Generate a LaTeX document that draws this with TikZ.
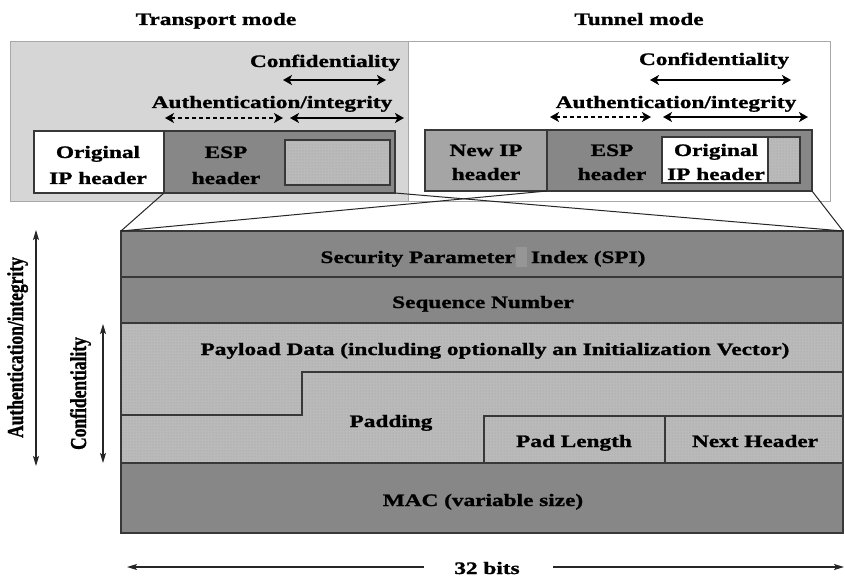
\documentclass[tikz,border=0pt]{standalone}
\usepackage{fontspec}
\setmainfont[FakeStretch=1.33, BoldFeatures={FakeBold=1.2}]{Liberation Serif}
\newfontfamily\vfont[BoldFeatures={FakeBold=1.2}]{Liberation Serif}
\usetikzlibrary{arrows.meta,patterns}
\definecolor{dk}{HTML}{878787}
\definecolor{md}{HTML}{A5A5A5}
\definecolor{lt}{HTML}{BABABA}
\definecolor{bg}{HTML}{D6D6D6}
\definecolor{edge}{HTML}{383838}
\definecolor{frame}{HTML}{A8A8A8}
\definecolor{spot}{HTML}{969696}
\begin{document}
\begin{tikzpicture}[x=1pt,y=-1pt,
  every node/.style={inner sep=0pt,outer sep=0pt},
  lbl/.style={font=\fontsize{17.5}{25}\selectfont\bfseries, anchor=base, text=black},
  vlbl/.style={font=\fontsize{17.5}{20}\vfont\bfseries, anchor=base, rotate=90, text=black},
  modebox/.style={draw=frame, line width=1pt, anchor=north west},
  box/.style={draw=edge, line width=1.4pt, anchor=north west},
  dkbox/.style={box, fill=dk},
  mdbox/.style={box, fill=md},
  whbox/.style={box, fill=white},
  dotbox/.style={box, preaction={fill=lt}, pattern=dots, pattern color=black!38},
  bigarrow/.style={line width=2.4pt, {Stealth[length=9pt,width=10pt,inset=2.5pt]}-{Stealth[length=9pt,width=10pt,inset=2.5pt]}},
  dasharrow/.style={bigarrow, dash pattern=on 4pt off 3pt},
  thinarrow/.style={line width=1.3pt, draw=black!85, {Stealth[length=10pt,width=6pt,inset=2pt]}-{Stealth[length=10pt,width=6pt,inset=2pt]}},
  conn/.style={line width=1pt, draw=black!85}
]
\useasboundingbox[fill=white] (0,0) rectangle (845,577);

% mode frames
\node (tmode) [modebox, fill=bg, minimum width=398pt, minimum height=160pt] at (10,42) {};
\node (nmode) [modebox, fill=white, minimum width=422pt, minimum height=160pt] at (408,42) {};

% titles
\node (ttitle) [lbl] at (216,25) {Transport mode};
\node (ntitle) [lbl] at (639,25) {Tunnel mode};

% transport labels and arrows
\node (tconf) [lbl] at (325,67) {Confidentiality};
\node (tauth) [lbl] at (272,108) {Authentication/integrity};
\coordinate (tc1) at (283,80); \coordinate (tc2) at (386,80);
\coordinate (ta1) at (165,118); \coordinate (ta2) at (283,118);
\coordinate (ta3) at (290,118); \coordinate (ta4) at (404,118);
\draw[bigarrow] (tc1) -- (tc2);
\draw[dasharrow] (ta1) -- (ta2);
\draw[bigarrow] (ta3) -- (ta4);

% tunnel labels and arrows
\node (nconf) [lbl] at (714,65) {Confidentiality};
\node (nauth) [lbl] at (676,108) {Authentication/integrity};
\coordinate (nc1) at (650,80); \coordinate (nc2) at (791,80);
\coordinate (na1) at (550,117); \coordinate (na2) at (651,117);
\coordinate (na3) at (663,117); \coordinate (na4) at (808,117);
\draw[bigarrow] (nc1) -- (nc2);
\draw[dasharrow] (na1) -- (na2);
\draw[bigarrow] (na3) -- (na4);

% transport packet
\node (torig) [whbox, minimum width=130pt, minimum height=62pt] at (34,131) {};
\node (tesp) [dkbox, minimum width=231pt, minimum height=62pt] at (164,131) {};
\node (tpay) [dotbox, minimum width=105pt, minimum height=45pt] at (285,140) {};
\node (torig1) [lbl] at (98,158) {Original};
\node (torig2) [lbl] at (98,184) {IP header};
\node (tesp1) [lbl] at (226,158) {ESP};
\node (tesp2) [lbl] at (226,184) {header};

% tunnel packet
\node (nnew) [mdbox, minimum width=122pt, minimum height=61pt] at (425,130) {};
\node (nesp) [dkbox, minimum width=265pt, minimum height=61pt] at (547,130) {};
\node (norig) [whbox, minimum width=106pt, minimum height=46pt] at (662,137) {};
\node (npay) [dotbox, minimum width=32pt, minimum height=46pt] at (768,137) {};
\node (nnew1) [lbl] at (486,156) {New IP};
\node (nnew2) [lbl] at (486,180) {header};
\node (nesp1) [lbl] at (612,156) {ESP};
\node (nesp2) [lbl] at (612,180) {header};
\node (norig1) [lbl] at (716,156) {Original};
\node (norig2) [lbl] at (716,180) {IP header};

% ESP format
\node (spi) [dkbox, minimum width=722pt, minimum height=46pt] at (121,231) {};
\node (seq) [dkbox, minimum width=722pt, minimum height=46pt] at (121,277) {};
\node (pay) [dotbox, minimum width=722pt, minimum height=140pt] at (121,323) {};
\node (mac) [dkbox, minimum width=722pt, minimum height=70pt] at (121,463) {};
\draw[edge, line width=1.4pt] (121,415) -- (302,415) -- (302,372) -- (843,372);
\node (padlen) [box, minimum width=181pt, minimum height=47pt] at (484,416) {};
\node (nexth) [box, minimum width=178pt, minimum height=47pt] at (665,416) {};
\fill[spot] (516,247) rectangle (527,267);

\node (spitxt) [lbl] at (483,263) {Security Parameter\hspace{16pt}Index (SPI)};
\node (seqtxt) [lbl] at (483,308) {Sequence Number};
\node (paytxt) [lbl] at (495,355) {Payload Data (including optionally an Initialization Vector)};
\node (padtxt) [lbl] at (391,427) {Padding};
\node (padlentxt) [lbl] at (574,447) {Pad Length};
\node (nexthtxt) [lbl] at (755,447) {Next Header};
\node (mactxt) [lbl] at (483,506) {MAC (variable size)};

% expansion lines
\draw[conn] (tesp.south west) -- (spi.north west);
\draw[conn] (tesp.south east) -- (spi.north east);
\draw[conn] (nesp.south west) -- (spi.north west);
\draw[conn] (nesp.south east) -- (spi.north east);

% side arrows
\coordinate (av1) at (36,230); \coordinate (av2) at (36,466);
\coordinate (cv1) at (103,324); \coordinate (cv2) at (103,463);
\draw[thinarrow] (av1) -- (av2);
\draw[thinarrow] (cv1) -- (cv2);
\node (authv) [vlbl] at (23,347.5) {\scalebox{1}[1.3]{Authentication/integrity}};
\node (confv) [vlbl] at (86,393.5) {\scalebox{1}[1.3]{Confidentiality}};

% 32 bits
\node (bits) [lbl] at (487,574) {32 bits};
\coordinate (b1) at (127,567); \coordinate (b2) at (424,567);
\coordinate (b3) at (553,567); \coordinate (b4) at (844,567);
\draw[line width=1.3pt, draw=black!85, -{Stealth[length=10pt,width=6pt,inset=2pt]}] (b2) -- (b1);
\draw[line width=1.3pt, draw=black!85, -{Stealth[length=10pt,width=6pt,inset=2pt]}] (b3) -- (b4);
\end{tikzpicture}
\end{document}
